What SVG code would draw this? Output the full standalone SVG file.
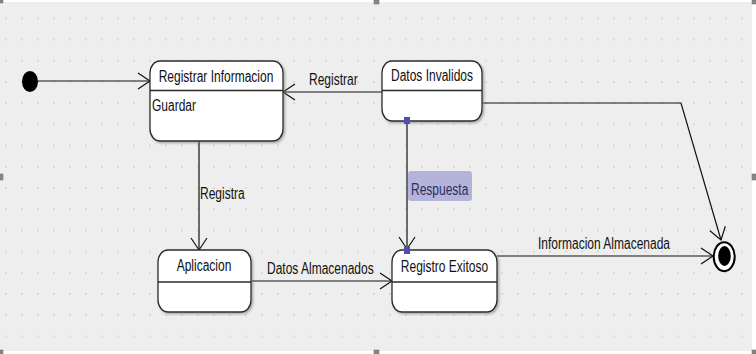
<svg xmlns="http://www.w3.org/2000/svg" width="756" height="354" viewBox="0 0 756 354">
<defs>
<pattern id="grid" patternUnits="userSpaceOnUse" x="0" y="0" width="16" height="21.2">
<rect x="5.5" y="17.3" width="1" height="2" fill="#c4c4c4"/>
</pattern>
<marker id="arr" markerUnits="userSpaceOnUse" markerWidth="16" markerHeight="20" refX="13" refY="9" orient="auto" viewBox="0 0 16 18">
<path d="M1,1 L13,9 L1,17" fill="none" stroke="#111" stroke-width="1.2"/>
</marker>
<filter id="sh" x="-10%" y="-10%" width="130%" height="130%">
<feDropShadow dx="1.5" dy="1.5" stdDeviation="0.8" flood-color="#777" flood-opacity="0.6"/>
</filter>
</defs>
<style>
.bg{fill:#eeeeee}
.box{fill:#ffffff;stroke:#2a2a2a;stroke-width:1.3;filter:url(#sh)}
.div{stroke:#2a2a2a;stroke-width:1.3}
.t{font-family:"Liberation Sans",Arial,sans-serif;font-size:12px;fill:#111}
.c{text-anchor:middle}
.edge{fill:none;stroke:#111;stroke-width:1.2;marker-end:url(#arr)}
.hd{fill:#8a8a8a;stroke:#666;stroke-width:0.5}
.pin{fill:#4f4fae}
</style>
<rect width="756" height="354" fill="#ffffff"/>
<rect class="bg" x="0" y="2" width="752" height="349"/>
<rect x="0" y="2" width="752" height="349" fill="url(#grid)"/>
<g id="handles">
<rect class="hd" x="0" y="0" width="3" height="3"/>
<rect class="hd" x="374" y="0" width="5" height="4"/>
<rect class="hd" x="752" y="0" width="4" height="4"/>
<rect class="hd" x="0" y="174" width="3" height="6"/>
<rect class="hd" x="752" y="174" width="4" height="6"/>
<rect class="hd" x="0" y="350" width="3" height="4"/>
<rect class="hd" x="374" y="350" width="5" height="4"/>
<rect class="hd" x="752" y="350" width="4" height="4"/>
</g>
<g id="connectors">
<path class="edge" d="M38,81 L150,81"/>
<path class="edge" d="M382,92 L283,92"/>
<path class="edge" d="M482,103 L681,103 L721,240"/>
<path class="edge" d="M199,141 L199,250"/>
<path class="edge" d="M251,281 L392,281"/>
<path class="edge" d="M497,256 L713,256"/>
<path class="edge" d="M407,121 L407,249"/>
<text class="t" transform="translate(309,85) scale(1,1.3)">Registrar</text>
<text class="t" transform="translate(200,199) scale(1,1.3)">Registra</text>
<rect x="408" y="171" width="64" height="30" rx="3" ry="3" fill="#b4b4da"/>
<text class="t" transform="translate(411,194.5) scale(1,1.3)" style="fill:#2e2e5c">Respuesta</text>
<text class="t" transform="translate(267,274) scale(1,1.3)">Datos Almacenados</text>
<text class="t" transform="translate(538,249) scale(1,1.3)">Informacion Almacenada</text>
</g>
<g id="start">
<ellipse cx="30" cy="81.5" rx="8" ry="10.5" fill="#000"/>
</g>
<g id="registrar-informacion">
<rect class="box" x="150" y="61" width="133" height="80" rx="10" ry="12"/>
<line class="div" x1="150" y1="90.5" x2="283" y2="90.5"/>
<text class="t c" transform="translate(216,81.5) scale(1,1.3)">Registrar Informacion</text>
<text class="t" transform="translate(152,111) scale(1,1.3)">Guardar</text>
</g>
<g id="datos-invalidos">
<rect class="box" x="382" y="61" width="100" height="60" rx="10" ry="12"/>
<line class="div" x1="382" y1="90.5" x2="482" y2="90.5"/>
<text class="t c" transform="translate(432,81) scale(1,1.3)">Datos Invalidos</text>
</g>
<g id="aplicacion">
<rect class="box" x="158" y="250" width="93" height="62" rx="10" ry="12"/>
<line class="div" x1="158" y1="282" x2="251" y2="282"/>
<text class="t c" transform="translate(204,271) scale(1,1.3)">Aplicacion</text>
</g>
<g id="registro-exitoso">
<rect class="box" x="392" y="250" width="105" height="62" rx="10" ry="12"/>
<line class="div" x1="392" y1="282" x2="497" y2="282"/>
<text class="t c" transform="translate(444.5,271.5) scale(1,1.3)">Registro Exitoso</text>
</g>
<g id="final">
<ellipse cx="724.2" cy="256.7" rx="10.5" ry="14.5" fill="#ffffff" stroke="#000" stroke-width="2"/>
<ellipse cx="724.5" cy="256" rx="6.3" ry="10" fill="#000"/>
</g>
<g id="selection-pins">
<rect class="pin" x="404" y="117" width="6" height="7"/>
<rect class="pin" x="404" y="247" width="6" height="7"/>
</g>
</svg>
